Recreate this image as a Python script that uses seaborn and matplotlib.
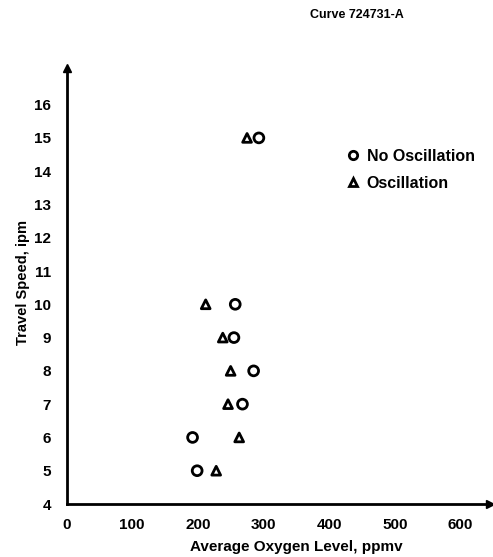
import matplotlib
matplotlib.use("Agg")
import matplotlib.pyplot as plt
import seaborn as sns
import pandas as pd
from matplotlib.lines import Line2D

# Data
no_osc_speed = [15, 10, 9, 8, 7, 6, 5]
no_osc_oxygen = [293, 257, 255, 285, 268, 192, 199]
osc_speed = [15, 10, 9, 8, 7, 6, 5]
osc_oxygen = [275, 212, 238, 250, 246, 263, 228]
x_ticks = [0, 100, 200, 300, 400, 500, 600]
y_ticks = list(range(4, 17))

sns.set_theme(style="white")
FONT = ['Liberation Sans', 'DejaVu Sans']
plt.rcParams['font.family'] = FONT
plt.rcParams['text.color'] = 'black'
plt.rcParams['axes.labelcolor'] = 'black'
plt.rcParams['xtick.color'] = 'black'
plt.rcParams['ytick.color'] = 'black'

df_no = pd.DataFrame({"oxygen": no_osc_oxygen, "speed": no_osc_speed})
df_os = pd.DataFrame({"oxygen": osc_oxygen, "speed": osc_speed})

fig = plt.figure(figsize=(4.93, 5.57), dpi=100)
ax = fig.add_axes([66.5 / 493, 53 / 557, (490 - 66.5) / 493, (504 - 68) / 557])

sns.scatterplot(data=df_no, x="oxygen", y="speed", ax=ax, marker="o", s=50,
                facecolor="none", edgecolor="black", linewidth=2.0, zorder=3)
sns.scatterplot(data=df_os, x="oxygen", y="speed", ax=ax, marker="^", s=40,
                facecolor="none", edgecolor="black", linewidth=2.0, zorder=3)

ax.set_xlim(0, 645)
ax.set_ylim(4, 17.1)
ax.set_xticks(x_ticks)
ax.set_yticks(y_ticks)
ax.set_xticklabels([str(v) for v in x_ticks], fontsize=11, fontweight="bold")
ax.set_yticklabels([str(v) for v in y_ticks], fontsize=11, fontweight="bold")
ax.tick_params(axis="both", direction="in", color="black", width=1.5)
ax.tick_params(axis="x", length=11, pad=10)
ax.tick_params(axis="y", length=9, pad=11)

for side in ["top", "right"]:
    ax.spines[side].set_visible(False)
for side in ["left", "bottom"]:
    ax.spines[side].set_color("black")
    ax.spines[side].set_linewidth(2.0)

# axis arrows
ax.plot([0], [1], marker="^", color="black", markersize=6, transform=ax.transAxes, clip_on=False)
ax.plot([1], [0], marker=">", color="black", markersize=6, transform=ax.transAxes, clip_on=False)

ax.set_xlabel("Average Oxygen Level, ppmv", fontsize=11, fontweight="bold")
ax.set_ylabel("Travel Speed, ipm", fontsize=10.5, fontweight="bold")
ax.xaxis.set_label_coords((296 - 66.5) / (490 - 66.5), -(540 - 504) / (504 - 68))
ax.yaxis.set_label_coords(-(66.5 - 30) / (490 - 66.5), (504 - 282) / (504 - 68))

fig.text(357 / 493, 1 - 15 / 557, "Curve 724731-A", fontsize=9, fontweight="bold",
         ha="center", va="center")

handles = [
    Line2D([], [], linestyle="none", marker="o", markersize=6, markerfacecolor="none",
           markeredgecolor="black", markeredgewidth=2.0, label="No Oscillation"),
    Line2D([], [], linestyle="none", marker="^", markersize=6, markerfacecolor="none",
           markeredgecolor="black", markeredgewidth=2.0, label="Oscillation"),
]
fig.legend(handles=handles, loc="upper left", bbox_to_anchor=(337 / 493, 1 - 141 / 557),
           frameon=False, prop={"size": 11.5, "weight": "bold", "family": FONT},
           handlelength=1.0, handletextpad=0.35, labelspacing=0.75, borderpad=0)

fig.savefig("out.png", dpi=100)
